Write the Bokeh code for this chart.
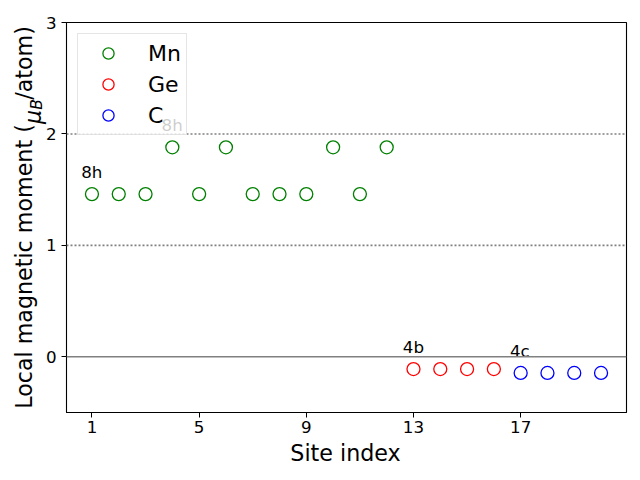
import math
from bokeh.plotting import figure
from bokeh.models import Range1d, FixedTicker, Span, Label, ColumnDataSource
from bokeh.core.properties import value
from bokeh.embed import file_html
from bokeh.resources import INLINE

# ---- data ----
mn_sites = [1, 2, 3, 4, 5, 6, 7, 8, 9, 10, 11, 12]
mn_moments = [1.46, 1.46, 1.46, 1.88, 1.46, 1.88, 1.46, 1.46, 1.46, 1.88, 1.46, 1.88]
ge_sites = [13, 14, 15, 16]
ge_moments = [-0.11, -0.11, -0.11, -0.11]
c_sites = [17, 18, 19, 20]
c_moments = [-0.145, -0.145, -0.145, -0.145]
ann_sites = [1, 4, 13, 17]
ann_moments = [1.46, 1.88, -0.11, -0.145]
ann_texts = ["8h", "8h", "4b", "4c"]
x_ticks = [1, 5, 9, 13, 17]
y_ticks = [0, 1, 2, 3]
ref_levels = [1, 2]

FONT = "DejaVu Sans"

p = figure(width=640, height=480, output_backend="svg", toolbar_location=None,
           x_range=Range1d(0.05, 20.95), y_range=Range1d(-0.5, 3),
           min_border_left=66, min_border_right=14, min_border_top=22, min_border_bottom=68)
p.background_fill_color = "white"
p.border_fill_color = "white"
p.outline_line_color = "black"
p.outline_line_width = 1.1
p.xgrid.visible = False
p.ygrid.visible = False

for ax in (p.xaxis[0], p.yaxis[0]):
    ax.axis_line_color = "black"
    ax.major_tick_line_color = "black"
    ax.major_tick_out = 5
    ax.major_tick_in = 0
    ax.minor_tick_line_color = None
    ax.major_label_text_font = FONT
    ax.major_label_text_font_size = "16.7px"
    ax.major_label_text_color = "black"
    ax.axis_label_text_font = FONT
    ax.axis_label_text_font_size = "22.2px"
    ax.axis_label_text_font_style = "normal"
    ax.axis_label_text_color = "black"

p.xaxis.ticker = FixedTicker(ticks=x_ticks)
p.yaxis.ticker = FixedTicker(ticks=y_ticks)
p.xaxis.major_label_standoff = 3
# main y label; the gap (em space + hair space) holds the italic mu and subscript B
p.yaxis.axis_label = "Local magnetic moment (\u2003\u200a/atom)"
p.yaxis.major_label_standoff = 5
p.yaxis.axis_label_standoff = 6

# reference lines
for lv in ref_levels:
    p.add_layout(Span(location=lv, dimension="width", line_color="#808080",
                      line_width=1.6, line_dash="2 2"))
p.add_layout(Span(location=0, dimension="width", line_color="#808080", line_width=1.6))

p.scatter(mn_sites, mn_moments, marker="circle", size=13, fill_color=None,
          line_color="green", line_width=1.3, legend_label="Mn")
p.scatter(ge_sites, ge_moments, marker="circle", size=13, fill_color=None,
          line_color="red", line_width=1.3, legend_label="Ge")
p.scatter(c_sites, c_moments, marker="circle", size=13, fill_color=None,
          line_color="blue", line_width=1.3, legend_label="C")

ann_src = ColumnDataSource(dict(
    x=[s - 0.4 for s in ann_sites],
    y=[m + 0.2 for m in ann_moments],
    t=ann_texts))
p.text(x="x", y="y", text="t", source=ann_src, text_font=value(FONT),
       text_font_size="16.7px", text_color="black", text_align="left",
       text_baseline="alphabetic")

# x label and the italic mu / subscript B of the y label (canvas coordinates)
p.add_layout(Label(x=345, y=452, x_units="canvas", y_units="canvas", text="Site index",
                   text_font=FONT, text_font_size="22.2px", text_color="black",
                   text_align="center", text_baseline="alphabetic", padding=0), "below")
lab_common = dict(x_units="canvas", y_units="canvas", angle=math.pi / 2,
                  text_font=FONT, text_color="black", text_align="left",
                  text_baseline="alphabetic", padding=0, text_font_style="italic")
p.add_layout(Label(x=32, y=123.4, text="μ", text_font_size="22.2px", **lab_common), "below")
p.add_layout(Label(x=36, y=109.2, text="B", text_font_size="15.5px", **lab_common), "above")

lg = p.legend[0]
lg.location = "top_left"
lg.margin = 11
lg.padding = 5
lg.spacing = 3
lg.glyph_width = 50
lg.glyph_height = 28
lg.label_height = 28
lg.label_standoff = 15
lg.label_text_font = FONT
lg.label_text_font_size = "22px"
lg.label_text_color = "black"
lg.border_line_color = "#cccccc"
lg.border_line_width = 1
lg.background_fill_color = "white"
lg.background_fill_alpha = 0.8

open("out.html", "w").write(file_html(p, INLINE))
